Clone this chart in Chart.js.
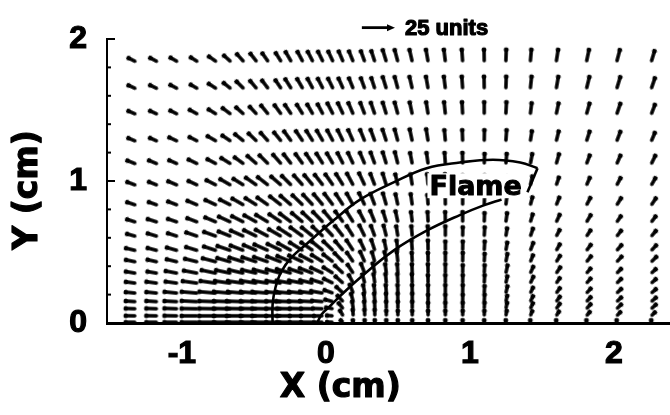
<!DOCTYPE html>
<html><head><meta charset="utf-8">
<script src="https://cdn.jsdelivr.net/npm/chart.js@4/dist/chart.umd.min.js"></script>
<style>html,body{margin:0;padding:0;background:#fff}</style>
</head><body>
<canvas id="c" width="670" height="415"></canvas>
<script>
// ---------- data ----------
const xTicks = [-1, 0, 1, 2];
const yTicks = [0, 1, 2];
const yMinorTicks = [0.2, 0.4, 0.6, 0.8, 1.2, 1.4, 1.6, 1.8];
const xTitle = 'X (cm)';
const yTitle = 'Y (cm)';
const flameLabel = 'Flame';
const refArrowLabel = '25 units';

// grid columns (cm) and rows (cm) of the velocity vectors
const gridX = [-1.32,-1.17,-1.03,-0.89,-0.76,-0.66,-0.57,-0.48,-0.40,-0.31,-0.24,-0.16,-0.09,-0.02,0.05,0.12,0.19,0.27,0.34,0.42,0.50,0.60,0.71,0.83,0.95,1.10,1.25,1.42,1.60,1.81,2.02,2.26];
const gridY = [1.84,1.65,1.47,1.28,1.12,0.97,0.83,0.71,0.61,0.51,0.43,0.35,0.28,0.21,0.15,0.10,0.05,0.005];

// flow direction (degrees, counter-clockwise from +X) per row / column
const vectorAngle = [
[153,152,150,148,145,138,132,128,125,122,120,118,117,116,115,113,112,110,108,107,105,103,100,97,94,91,88,85,81,78,75,73],
[155,154,152,150,147,141,135,130,127,124,122,120,118,117,116,114,112,110,108,107,105,103,100,97,94,91,88,84,80,76,73,71],
[156,155,153,151,148,143,138,133,129,126,124,122,120,118,117,115,113,111,109,107,105,102,99,96,93,90,87,83,78,74,71,69],
[157,156,155,153,150,146,141,136,132,129,126,124,122,120,118,116,114,112,110,108,105,102,99,95,92,89,86,81,76,72,69,67],
[158,157,156,154,152,148,144,139,135,131,128,126,124,122,120,117,115,113,110,107,104,101,98,94,91,88,85,79,74,69,66,64],
[159,158,157,155,153,150,148,145,142,139,135,132,130,128,125,122,118,115,111,107,103,99,95,92,90,88,84,77,71,66,62,60],
[161,160,159,157,155,153,150,148,145,142,139,136,133,130,127,123,119,115,111,106,102,98,94,91,90,88,83,75,68,62,58,56],
[162,162,161,159,157,155,153,151,149,146,143,140,137,134,130,126,122,117,112,107,102,97,93,91,90,88,82,73,65,59,55,53],
[164,163,162,161,160,158,156,154,152,150,147,144,141,137,133,128,122,116,110,104,99,95,92,90,89,87,81,71,62,56,52,50],
[166,165,164,163,162,161,159,157,156,154,151,148,145,141,136,130,123,115,108,102,97,94,91,90,89,87,80,69,60,53,49,47],
[168,167,166,166,165,164,163,162,161,159,157,155,152,148,142,134,124,114,106,100,96,93,91,90,89,87,79,68,58,51,47,45],
[170,170,169,169,168,168,167,167,166,165,164,162,159,155,148,137,123,111,102,97,94,92,91,90,89,87,78,66,56,49,45,43],
[172,172,172,172,172,172,172,171,171,171,170,169,167,163,154,138,118,105,98,95,93,92,91,90,89,87,78,65,55,48,44,42],
[174,174,174,175,175,175,175,175,175,175,175,174,173,170,160,137,112,101,96,94,92,91,90,90,89,87,77,64,54,47,43,41],
[176,176,177,177,178,178,178,178,178,178,178,178,177,175,165,133,105,97,94,92,91,90,90,90,89,87,77,64,54,47,43,41],
[178,178,178,179,179,179,179,179,179,179,179,179,179,178,170,128,98,94,92,91,90,90,90,90,89,87,78,65,55,48,44,42],
[179,179,179,180,180,180,180,180,180,180,180,180,180,180,176,120,94,92,91,90,90,90,90,90,89,88,80,68,58,50,46,44],
[180,180,180,180,180,180,180,180,180,180,180,180,180,180,178,140,100,92,90,90,90,90,90,90,90,90,90,90,90,90,90,90]
];

// drawn vector length (px) per row / column
const vectorLength = [
[10,10,10,10,11,11,12,12,12,12,13,13,13,13,13,13,13,13,13,14,14,14,14,14,14,14,14,14,14,14,14,13],
[10,10,10,10,11,11,12,12,12,12,13,13,13,13,13,13,13,13,13,14,14,14,14,14,14,14,14,14,14,14,14,13],
[10,10,10,11,11,12,12,12,13,13,13,13,13,13,14,14,14,14,14,14,14,14,14,14,14,14,14,13,13,13,13,12],
[10,10,11,11,12,12,13,13,13,13,14,14,14,14,14,14,14,14,14,14,14,14,14,13,13,13,13,12,12,12,12,11],
[11,11,11,12,12,13,13,14,14,14,14,14,14,14,14,14,14,14,14,14,14,13,13,13,13,12,12,12,12,11,11,11],
[11,11,12,12,13,14,14,15,15,15,15,15,15,15,15,15,15,15,14,14,13,13,13,13,12,12,11,11,10,10,10,10],
[11,11,12,13,14,14,15,15,15,16,16,16,16,16,16,15,15,15,14,14,13,13,12,12,12,12,11,10,10,10,10,10],
[11,12,12,13,14,15,15,16,16,16,16,16,16,16,16,15,15,14,14,13,13,12,12,12,12,11,11,10,10,10,9,9],
[11,12,12,14,15,15,16,16,16,16,17,17,16,16,15,15,14,14,13,13,12,12,12,12,11,11,10,10,9,9,9,9],
[12,12,13,14,15,16,16,16,17,17,17,17,16,16,15,14,14,13,13,12,12,12,12,11,11,11,10,10,9,9,9,9],
[12,12,13,15,16,16,17,17,17,17,17,17,16,15,14,14,13,13,12,12,12,11,11,11,11,10,10,9,9,9,9,9],
[12,12,14,16,17,17,17,17,17,17,17,16,16,15,13,13,12,12,12,11,11,11,11,11,10,10,10,9,9,8,8,8],
[12,13,14,17,18,18,18,18,17,17,17,16,15,14,12,12,11,11,11,11,11,11,10,10,10,10,9,9,8,8,8,8],
[12,13,15,18,19,19,18,18,18,17,17,16,15,14,11,11,11,10,10,10,10,10,10,10,10,9,9,8,8,8,8,8],
[12,13,15,18,19,19,19,18,18,17,17,16,15,13,10,10,10,10,10,10,10,10,9,9,9,9,8,8,8,8,8,8],
[12,13,15,18,19,19,19,18,18,17,16,15,14,12,9,9,9,9,9,9,9,9,8,8,8,8,8,8,8,8,8,8],
[12,13,15,18,19,19,19,18,18,17,16,15,14,11,8,8,8,8,8,7,7,7,7,7,7,7,7,7,7,7,7,7],
[12,13,15,18,19,19,19,18,18,17,16,15,14,11,8,5,4,4,4,4,4,4,4,4,4,4,4,4,4,4,4,4]
];

// flame boundaries (cm)
const flameOuterX = [-0.37,-0.37,-0.35,-0.31,-0.24,-0.13,0.05,0.24,0.47,0.70,0.93,1.16,1.35,1.47];
const flameOuterY = [0.00,0.13,0.25,0.36,0.46,0.56,0.72,0.87,0.99,1.09,1.13,1.15,1.13,1.09];
const flameTipX = [1.47,1.40];
const flameTipY = [1.09,0.92];
const flameInnerX = [-0.06,-0.03,0.03,0.13,0.25,0.47,0.70,0.93,1.10,1.22];
const flameInnerY = [0.00,0.06,0.12,0.22,0.33,0.51,0.65,0.76,0.83,0.87];

// ---------- build ----------
const vectorPoints = [];
gridY.forEach((y, r) => gridX.forEach((x, c) => {
  vectorPoints.push({x: x, y: y, a: vectorAngle[r][c], len: vectorLength[r][c]});
}));
const toXY = (xs, ys) => xs.map((x, i) => ({x: x, y: ys[i]}));

// arrow glyph: tail at the image centre, shaft to the right with a round head
const glyphCache = {};
function arrowGlyph(len) {
  const key = Math.round(len * 2);
  if (glyphCache[key]) return glyphCache[key];
  const L = key / 2, pad = 4;
  const cv = document.createElement('canvas');
  cv.width = Math.ceil(2 * (L + pad)); cv.height = 10;
  const g = cv.getContext('2d');
  const cx = cv.width / 2, cy = 5;
  g.strokeStyle = '#000'; g.fillStyle = '#000';
  g.lineWidth = 3.4; g.lineCap = 'round';
  g.beginPath(); g.moveTo(cx + 1, cy); g.lineTo(cx + L - 2, cy); g.stroke();
  g.beginPath(); g.arc(cx + L - 2, cy, 2.4, 0, Math.PI * 2); g.fill();
  glyphCache[key] = cv;
  return cv;
}

function heavyText(c, t, x, y, sw) {
  c.lineWidth = sw; c.lineJoin = 'round';
  c.strokeText(t, x, y);
  c.fillText(t, x, y);
}

const annot = {
  id: 'annot',
  afterDraw(chart) {
    const c = chart.ctx, xs = chart.scales.x, ys = chart.scales.y;
    c.save();
    c.strokeStyle = '#000'; c.fillStyle = '#000'; c.lineWidth = 2;
    const x0 = xs.left;
    yTicks.forEach(v => { const p = ys.getPixelForValue(v); c.beginPath(); c.moveTo(x0, p); c.lineTo(x0 + 8, p); c.stroke(); });
    yMinorTicks.forEach(v => { const p = ys.getPixelForValue(v); c.beginPath(); c.moveTo(x0, p); c.lineTo(x0 + 4, p); c.stroke(); });
    // axis titles
    c.font = 'bold 33px "DejaVu Sans"';
    c.textAlign = 'center'; c.textBaseline = 'middle';
    heavyText(c, xTitle, xs.getPixelForValue(0.1), 388, 1.2);
    c.save(); c.translate(28, 190); c.rotate(-Math.PI / 2); heavyText(c, yTitle, 0, 0, 1.2); c.restore();
    // reference arrow
    const ay = ys.getPixelForValue(2.08);
    const ax1 = xs.getPixelForValue(0.25), ax2 = xs.getPixelForValue(0.48);
    c.lineWidth = 2.8;
    c.beginPath(); c.moveTo(ax1, ay); c.lineTo(ax2 - 5, ay); c.stroke();
    c.beginPath(); c.moveTo(ax2, ay); c.lineTo(ax2 - 8, ay - 3.5); c.lineTo(ax2 - 8, ay + 3.5); c.closePath(); c.fill();
    c.font = 'bold 22px "Liberation Sans"';
    c.textAlign = 'left'; c.textBaseline = 'alphabetic';
    heavyText(c, refArrowLabel, ax2 + 10, ay + 7, 1.2);
    // flame label
    const fx = xs.getPixelForValue(1.04), fy = ys.getPixelForValue(0.90);
    c.font = 'bold 27px "DejaVu Sans"';
    const w = c.measureText(flameLabel).width;
    c.fillStyle = '#fff';
    c.fillRect(fx - w / 2 - 2, fy - 22, w + 4, 25);
    c.fillStyle = '#000'; c.textAlign = 'center';
    heavyText(c, flameLabel, fx, fy, 1);
    c.restore();
  }
};

new Chart(document.getElementById('c'), {
  type: 'scatter',
  data: {
    datasets: [
      {data: toXY(flameOuterX, flameOuterY), showLine: true, borderColor: '#000', borderWidth: 2.6, pointRadius: 0, tension: 0.4},
      {data: toXY(flameTipX, flameTipY), showLine: true, borderColor: '#000', borderWidth: 2.6, pointRadius: 0},
      {data: toXY(flameInnerX, flameInnerY), showLine: true, borderColor: '#000', borderWidth: 2.6, pointRadius: 0, tension: 0.4},
      {
        data: vectorPoints,
        pointStyle: ctx => ctx.raw ? arrowGlyph(ctx.raw.len) : 'circle',
        pointRadius: ctx => ctx.raw ? ctx.raw.len : 0,
        pointRotation: ctx => ctx.raw ? -ctx.raw.a : 0,
        pointBorderColor: '#000',
        pointBackgroundColor: '#000',
        pointBorderWidth: 0
      }
    ]
  },
  options: {
    responsive: false,
    devicePixelRatio: 1,
    animation: false,
    events: [],
    layout: {autoPadding: false, padding: {top: 39, left: 0, right: 0, bottom: 0}},
    plugins: {legend: {display: false}, tooltip: {enabled: false}},
    scales: {
      x: {
        type: 'linear', min: -1.52, max: 2.39,
        afterBuildTicks: s => { s.ticks = xTicks.map(v => ({value: v})); },
        afterFit: s => { s.height = 92; s.paddingLeft = 0; s.paddingRight = 0; },
        grid: {display: true, drawOnChartArea: false, drawTicks: false},
        border: {display: true, color: '#000', width: 3},
        ticks: {color: '#000', textStrokeColor: '#000', textStrokeWidth: 1.2,
                font: {family: 'Liberation Sans', size: 32, weight: 'bold'}, padding: 12, maxRotation: 0, autoSkip: false,
                callback: v => String(v)}
      },
      y: {
        type: 'linear', min: 0, max: 2,
        afterBuildTicks: s => { s.ticks = yTicks.map(v => ({value: v})); },
        afterFit: s => { s.width = 107; s.paddingTop = 0; s.paddingBottom = 0; },
        grid: {display: true, drawOnChartArea: false, drawTicks: false},
        border: {display: true, color: '#000', width: 2},
        ticks: {color: '#000', textStrokeColor: '#000', textStrokeWidth: 1.2,
                font: {family: 'Liberation Sans', size: 32, weight: 'bold'}, padding: 20, autoSkip: false,
                callback: v => String(v)}
      }
    }
  },
  plugins: [annot]
});
</script>
</body></html>
